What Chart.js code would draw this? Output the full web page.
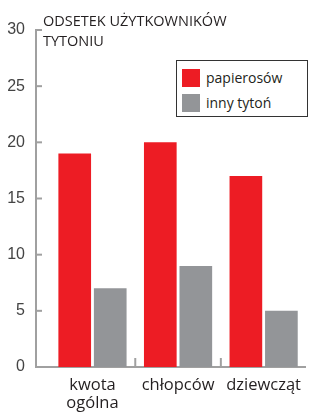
<!DOCTYPE html>
<html>
<head>
<meta charset="utf-8">
<script src="https://cdn.jsdelivr.net/npm/chart.js@4"></script>
<style>
  html, body { margin: 0; padding: 0; background: #fff; }
  #wrap { position: relative; width: 310px; height: 412px; }
  #title { position: absolute; left: 43px; top: 11px; font: 14.5px "Open Sans", sans-serif; color: #231f20; line-height: 20px; }
  #legend { position: absolute; left: 176px; top: 60px; width: 130px; height: 55px; border: 1px solid #333; background: #fff; font: 14px "Open Sans", sans-serif; color: #231f20; }
  #legend div { position: absolute; left: 5px; height: 18px; line-height: 18px; }
  #legend span { display: inline-block; width: 18px; height: 18px; vertical-align: top; margin-right: 6px; }
</style>
</head>
<body>
<div id="wrap">
  <canvas id="c" width="310" height="412"></canvas>
  <div id="title">ODSETEK UŻYTKOWNIKÓW<br>TYTONIU</div>
  <div id="legend"></div>
</div>
<script>
var categories = ['kwota ogólna', 'chłopców', 'dziewcząt'];
var seriesNames = ['papierosów', 'inny tytoń'];
var papierosow = [19, 20, 17];
var innyTyton = [7, 9, 5];
var yTicks = [0, 5, 10, 15, 20, 25, 30];

var axisGray = '#a0a0a0';

function points(values) {
  return values.map(function (v, i) { return { x: i + 1, y: v }; });
}

var innerTicks = {
  id: 'innerTicks',
  afterDraw: function (chart) {
    var ctx = chart.ctx;
    var xs = chart.scales.x, ys = chart.scales.y;
    ctx.save();
    ctx.strokeStyle = axisGray;
    ctx.lineWidth = 2;
    yTicks.forEach(function (t) {
      var y = ys.getPixelForValue(t);
      ctx.beginPath();
      ctx.moveTo(xs.left, y);
      ctx.lineTo(xs.left + 6, y);
      ctx.stroke();
    });
    for (var i = 1; i < categories.length; i++) {
      var x = xs.getPixelForValue(i + 0.5);
      ctx.beginPath();
      ctx.moveTo(x, ys.bottom);
      ctx.lineTo(x, ys.bottom - 9);
      ctx.stroke();
    }
    ctx.restore();
  }
};

var chart = new Chart(document.getElementById('c'), {
  type: 'bar',
  data: {
    datasets: [
      { label: seriesNames[0], data: points(papierosow), backgroundColor: '#ed1c24' },
      { label: seriesNames[1], data: points(innyTyton), backgroundColor: '#939598' }
    ]
  },
  options: {
    responsive: false,
    animation: false,
    categoryPercentage: 0.83,
    barPercentage: 0.92,
    layout: { padding: { left: 0, right: 0, top: 30, bottom: 0 } },
    plugins: { legend: { display: false }, tooltip: { enabled: false } },
    scales: {
      x: {
        type: 'linear',
        offset: false,
        min: 0.34,
        max: 3.49,
        grid: { display: false, drawTicks: false },
        border: { display: true, color: axisGray, width: 2 },
        afterBuildTicks: function (s) { s.ticks = categories.map(function (c, i) { return { value: i + 1 }; }); },
        afterFit: function (s) { s.height = 45; },
        ticks: {
          autoSkip: false,
          maxRotation: 0,
          padding: 9,
          color: '#231f20',
          font: { family: 'Open Sans', size: 16.5, lineHeight: 1.1 },
          callback: function (v) { return categories[v - 1].split(' '); }
        }
      },
      y: {
        min: 0,
        max: 30,
        grid: { display: false, drawTicks: false },
        border: { display: true, color: axisGray, width: 2 },
        afterBuildTicks: function (s) { s.ticks = yTicks.map(function (v) { return { value: v }; }); },
        afterFit: function (s) { s.width = 36; },
        ticks: {
          padding: 11,
          color: '#444',
          font: { family: 'Liberation Sans', size: 16 }
        }
      }
    }
  },
  plugins: [innerTicks]
});

var legend = document.getElementById('legend');
chart.data.datasets.forEach(function (ds, i) {
  var row = document.createElement('div');
  row.style.top = (8 + i * 25) + 'px';
  row.innerHTML = '<span style="background:' + ds.backgroundColor + '"></span>' + ds.label;
  legend.appendChild(row);
});
</script>
</body>
</html>
